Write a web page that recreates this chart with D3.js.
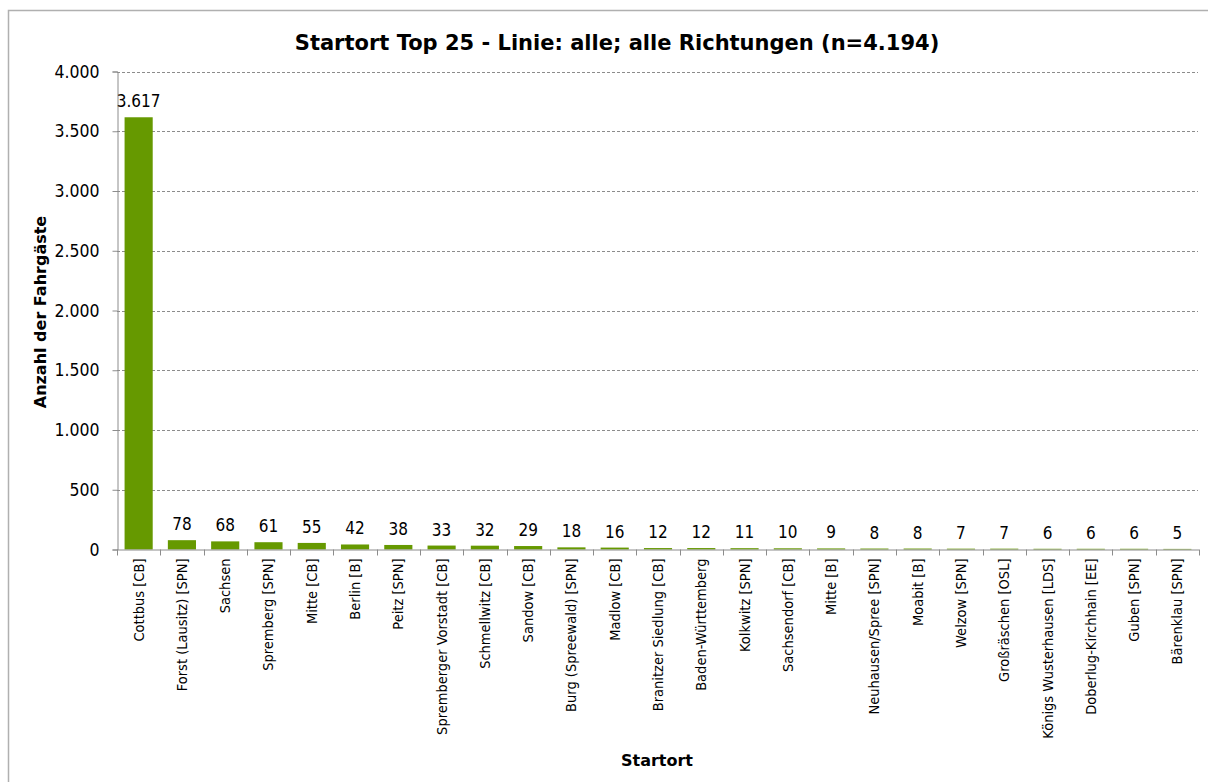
<!DOCTYPE html>
<html><head><meta charset="utf-8">
<script src="https://cdn.jsdelivr.net/npm/d3@7"></script>
<style>
body{margin:0;background:#fff;}
svg{display:block;font-family:"DejaVu Sans Condensed","DejaVu Sans",sans-serif;}
</style></head>
<body>
<svg id="chart" width="1208" height="782"></svg>
<script>
const categories = ["Cottbus [CB]","Forst (Lausitz) [SPN]","Sachsen","Spremberg [SPN]","Mitte [CB]","Berlin [B]","Peitz [SPN]","Spremberger Vorstadt [CB]","Schmellwitz [CB]","Sandow [CB]","Burg (Spreewald) [SPN]","Madlow [CB]","Branitzer Siedlung [CB]","Baden-Württemberg","Kolkwitz [SPN]","Sachsendorf [CB]","Mitte [B]","Neuhausen/Spree [SPN]","Moabit [B]","Welzow [SPN]","Großräschen [OSL]","Königs Wusterhausen [LDS]","Doberlug-Kirchhain [EE]","Guben [SPN]","Bärenklau [SPN]"];
const values = [3617,78,68,61,55,42,38,33,32,29,18,16,12,12,11,10,9,8,8,7,7,6,6,6,5];
const yTicks = [0,500,1000,1500,2000,2500,3000,3500,4000];
const title = "Startort Top 25 - Linie: alle; alle Richtungen (n=4.194)";
const yTitle = "Anzahl der Fahrgäste";
const xTitle = "Startort";

const fmt = v => d3.format(",")(v).replace(/,/g, ".");
const svg = d3.select("#chart");
const L = 117, R = 1199, T = 71.5, B = 549.5;

svg.append("rect").attr("x",8.5).attr("y",10.5).attr("width",1220).attr("height",800)
  .attr("fill","#fff").attr("stroke","#b0b0b0").attr("stroke-width",1.5);

const x = d3.scaleBand().domain(categories).range([L,R]).paddingInner(0.35).paddingOuter(0.175);
const y = d3.scaleLinear().domain([0,4000]).range([B,T]);

// gridlines
svg.append("g").selectAll("line").data(yTicks.filter(d=>d>0)).join("line")
  .attr("x1",L).attr("x2",R-1).attr("y1",d=>Math.round(y(d))+0.5).attr("y2",d=>Math.round(y(d))+0.5)
  .attr("stroke","#8c8c8c").attr("stroke-dasharray","3,2").attr("stroke-width",1);

// y axis
const ya = svg.append("g").attr("transform",`translate(${L+0.5},0)`)
  .call(d3.axisLeft(y).tickValues(yTicks).tickFormat(fmt).tickSize(5).tickPadding(13));
ya.select(".domain").attr("stroke","#8c8c8c");
ya.selectAll(".tick line").attr("stroke","#8c8c8c");
ya.selectAll("text").attr("font-size",17.5).attr("fill","#000").attr("font-family","DejaVu Sans Condensed, DejaVu Sans");

// bars
svg.append("g").selectAll("rect").data(values).join("rect")
  .attr("x",(d,i)=>x(categories[i])).attr("width",x.bandwidth())
  .attr("y",d=>y(d)).attr("height",d=>B-y(d)).attr("fill","#669900");

// x axis line + ticks at band boundaries
svg.append("line").attr("x1",L).attr("x2",R).attr("y1",B+0.5).attr("y2",B+0.5).attr("stroke","#8c8c8c");
const bounds = categories.map(c=>x(c)-x.step()*x.paddingOuter()).concat([R]);
svg.append("g").selectAll("line").data(bounds).join("line")
  .attr("x1",d=>Math.round(d)+0.5).attr("x2",d=>Math.round(d)+0.5).attr("y1",B).attr("y2",B+6)
  .attr("stroke","#8c8c8c");

// value labels
svg.append("g").selectAll("text").data(values).join("text")
  .attr("x",(d,i)=>x(categories[i])+x.bandwidth()/2).attr("y",d=>y(d)-10)
  .attr("text-anchor","middle").attr("font-size",17).attr("fill","#000").text(d=>fmt(d));

// category labels
svg.append("g").selectAll("text").data(categories).join("text")
  .attr("transform",c=>`translate(${x(c)+x.bandwidth()/2+5},${B+9}) rotate(-90)`)
  .attr("text-anchor","end").attr("font-size",14.5).attr("fill","#000").text(c=>c);

// titles
svg.append("text").attr("x",617).attr("y",50).attr("text-anchor","middle")
  .attr("font-family","DejaVu Sans").attr("font-size",21).attr("font-weight","bold").text(title);
svg.append("text").attr("transform",`translate(46,312) rotate(-90)`).attr("text-anchor","middle")
  .attr("font-family","DejaVu Sans").attr("font-size",16).attr("font-weight","bold").text(yTitle);
svg.append("text").attr("x",657).attr("y",766).attr("text-anchor","middle")
  .attr("font-family","DejaVu Sans").attr("font-size",16).attr("font-weight","bold").text(xTitle);
</script>
</body></html>
